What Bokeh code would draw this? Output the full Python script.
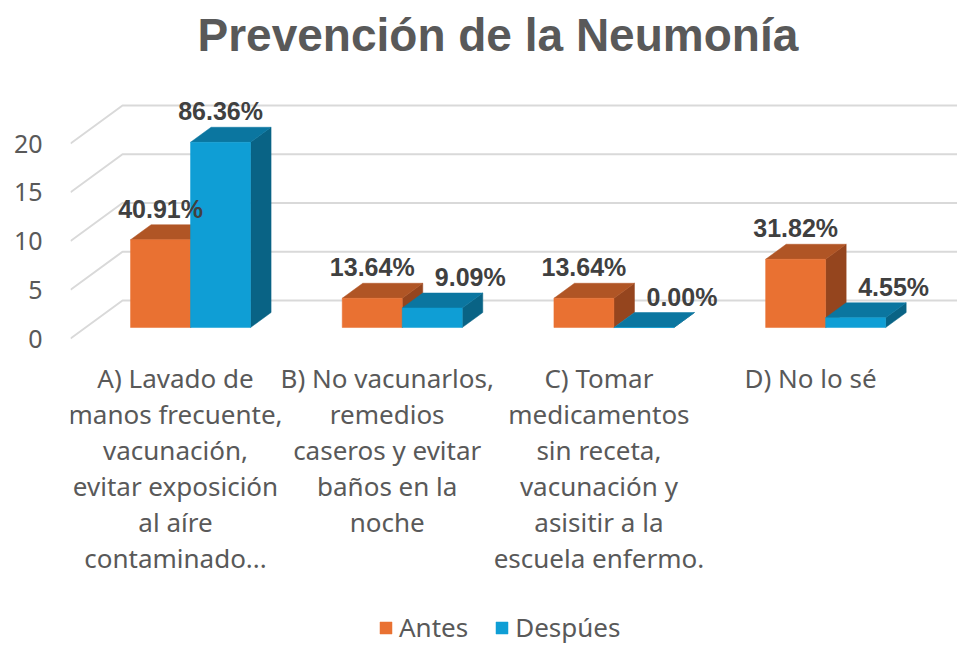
from bokeh.plotting import figure
from bokeh.models import Range1d, FixedTicker, Legend, LegendItem, ColumnDataSource
from bokeh.embed import file_html
from bokeh.resources import INLINE
from bokeh.core.properties import value

# ---------------- data ----------------
categories = [
    "A) Lavado de\nmanos frecuente,\nvacunación,\nevitar exposición\nal aíre\ncontaminado...",
    "B) No vacunarlos,\nremedios\ncaseros y evitar\nbaños en la\nnoche",
    "C) Tomar\nmedicamentos\nsin receta,\nvacunación y\nasisitir a la\nescuela enfermo.",
    "D) No lo sé",
]
series_names = ["Antes", "Despúes"]
antes = [9, 3, 3, 7]
despues = [19, 2, 0, 1]
y_ticks = [0, 5, 10, 15, 20]
title_text = "Prevención de la Neumonía"

# ---------------- geometry (pixel scale of the oblique projection) ----------------
SX = 211.7            # px per category unit
SY = 9.75             # px per value unit
DX = 52 / SX          # full floor depth, x component (data units)
DY = 38 / SY          # full floor depth, y component (data units)
F0, F1 = 0.289, 0.684 # bar front / back depth fractions
W = 60 / SX           # bar width
GAP = 16 / SY         # label gap above bar
SHIFT = 38 / SX       # label nudge to avoid collision
CAT_TOP = -21 / SY    # top of category label block (below the floor)

W_FIG, H_FIG = 957, 648
LEFT, TOP = 70, 66
frame_w = W_FIG - LEFT
frame_h = H_FIG - TOP
x0 = -(175 - 70) / SX
y1 = (338 - TOP) / SY
y0 = y1 - frame_h / SY

p = figure(width=W_FIG, height=H_FIG, output_backend="svg", toolbar_location=None,
           x_range=Range1d(x0, x0 + frame_w / SX), y_range=Range1d(y0, y1),
           min_border_left=LEFT, min_border_right=0, min_border_top=TOP,
           min_border_bottom=0, title=title_text, x_axis_location=None)
p.outline_line_color = None
p.grid.visible = False
p.background_fill_color = "white"
p.border_fill_color = "white"

p.title.align = "left"
p.title.offset = 127
p.title.text_font = "Liberation Sans"
p.title.text_font_size = "46px"
p.title.text_font_style = "bold"
p.title.text_color = "#595959"
p.title.standoff = 12

# value axis
p.yaxis.ticker = FixedTicker(ticks=y_ticks)
p.yaxis.axis_line_color = None
p.yaxis.major_tick_line_color = None
p.yaxis.minor_tick_line_color = None
p.yaxis.major_tick_out = 0
p.yaxis.major_label_standoff = 28
p.yaxis.major_label_text_font = "Noto Sans"
p.yaxis.major_label_text_font_size = "25px"
p.yaxis.major_label_text_color = "#595959"

# gridlines: side wall diagonal + back wall horizontal
x_end = x0 + frame_w / SX
gx = [[x0, x0 + DX, x_end] for t in y_ticks]
gy = [[t, t + DY, t + DY] for t in y_ticks]
p.multi_line(gx, gy, line_color="#D9D9D9", line_width=2)


def faces(vals, xoff):
    fx, fy, tx, ty, sx, sy = [], [], [], [], [], []
    ddx, ddy = (F1 - F0) * DX, (F1 - F0) * DY
    for i, v in enumerate(vals):
        xl = i + xoff + F0 * DX
        xr = xl + W
        yb = F0 * DY
        yt = v + F0 * DY
        fx.append([xl, xr, xr, xl]); fy.append([yb, yb, yt, yt])
        tx.append([xl, xr, xr + ddx, xl + ddx]); ty.append([yt, yt, yt + ddy, yt + ddy])
        sx.append([xr, xr + ddx, xr + ddx, xr]); sy.append([yb, yb + ddy, yt + ddy, yt])
    return fx, fy, tx, ty, sx, sy


styles = [
    ("#E97132", "#B05525", "#95451E"),
    ("#0F9ED5", "#0B76A0", "#096385"),
]
fronts = []
for vals, xoff, (cf, ct, cs) in zip([antes, despues], [-W, 0.0], styles):
    fx, fy, tx, ty, sx, sy = faces(vals, xoff)
    p.patches(sx, sy, fill_color=cs, line_color=cs, line_width=0.5)
    p.patches(tx, ty, fill_color=ct, line_color=ct, line_width=0.5)
    r = p.patches(fx, fy, fill_color=cf, line_color=cf, line_width=0.5)
    fronts.append(r)

# data labels
total_a = sum(antes)
total_d = sum(despues)
lab_x, lab_y, lab_t = [], [], []
for i, (a, d) in enumerate(zip(antes, despues)):
    lab_x.append(i - W / 2 + F0 * DX)
    lab_y.append(a + F1 * DY + GAP)
    lab_t.append(f"{a / total_a * 100:.2f}%")
    lab_x.append(i + W / 2 + F0 * DX + (SHIFT if d < a else 0))
    lab_y.append(d + F1 * DY + GAP)
    lab_t.append(f"{d / total_d * 100:.2f}%")
src = ColumnDataSource(dict(x=lab_x, y=lab_y, t=lab_t))
p.text(x="x", y="y", text="t", source=src, text_align="center", text_baseline="alphabetic",
       text_font=value("Liberation Sans"), text_font_style="bold", text_font_size="25px",
       text_color="#404040")

# category labels (under the floor)
cat_src = ColumnDataSource(dict(x=list(range(len(categories))),
                                y=[CAT_TOP] * len(categories), t=categories))
p.text(x="x", y="y", text="t", source=cat_src, text_align="center", text_baseline="top",
       text_font=value("Noto Sans"), text_font_size="26px", text_color="#595959",
       text_line_height=1.0)

legend = Legend(items=[LegendItem(label=n, renderers=[r]) for n, r in zip(series_names, fronts)],
                orientation="horizontal", location=(308, 3))
legend.border_line_color = None
legend.background_fill_color = None
legend.padding = 0
legend.margin = 0
legend.spacing = 26
legend.glyph_width = 15
legend.glyph_height = 15
legend.label_standoff = 6
legend.label_text_font = "Noto Sans"
legend.label_text_font_size = "26px"
legend.label_text_color = "#595959"
p.add_layout(legend)

open("out.html", "w").write(file_html(p, INLINE))
